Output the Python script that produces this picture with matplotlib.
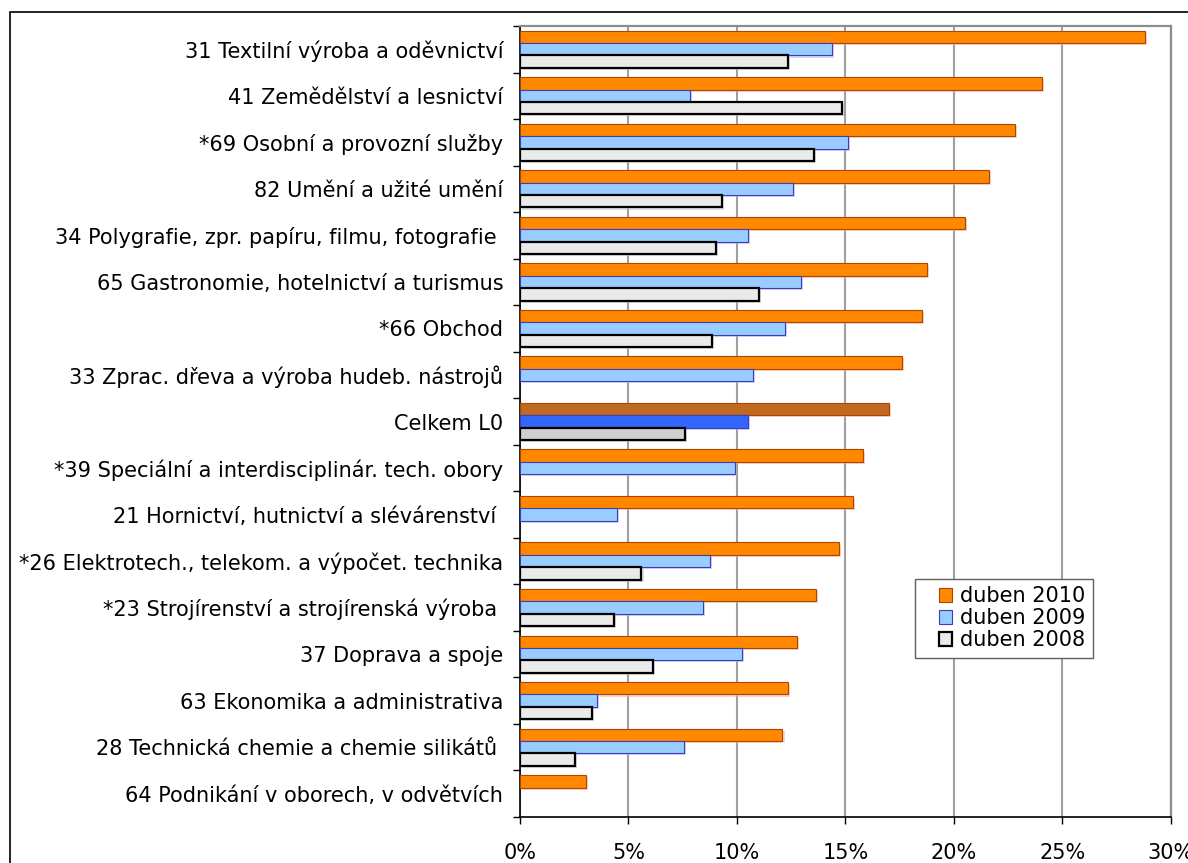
import numpy as np
import matplotlib
matplotlib.use("Agg")
import matplotlib.pyplot as plt
import matplotlib.patheffects as pe
from matplotlib.patches import Rectangle, Patch
from matplotlib.legend_handler import HandlerPatch
from matplotlib.ticker import FixedLocator, FuncFormatter

categories = [
    "31 Textilní výroba a oděvnictví",
    "41 Zemědělství a lesnictví",
    "*69 Osobní a provozní služby",
    "82 Umění a užité umění",
    "34 Polygrafie, zpr. papíru, filmu, fotografie ",
    "65 Gastronomie, hotelnictví a turismus",
    "*66 Obchod",
    "33 Zprac. dřeva a výroba hudeb. nástrojů",
    "Celkem L0",
    "*39 Speciální a interdisciplinár. tech. obory",
    "21 Hornictví, hutnictví a slévárenství ",
    "*26 Elektrotech., telekom. a výpočet. technika",
    "*23 Strojírenství a strojírenská výroba ",
    "37 Doprava a spoje",
    "63 Ekonomika a administrativa",
    "28 Technická chemie a chemie silikátů ",
    "64 Podnikání v oborech, v odvětvích",
]
series_labels = ["duben 2010", "duben 2009", "duben 2008"]
duben_2010 = [28.8, 24.05, 22.8, 21.6, 20.5, 18.75, 18.55, 17.6, 17.0,
              15.8, 15.35, 14.7, 13.65, 12.75, 12.35, 12.1, 3.05]
duben_2009 = [14.4, 7.85, 15.1, 12.6, 10.5, 12.95, 12.2, 10.75, 10.5,
              9.9, 4.45, 8.75, 8.45, 10.25, 3.55, 7.55, np.nan]
duben_2008 = [12.35, 14.85, 13.55, 9.3, 9.05, 11.0, 8.85, np.nan, 7.6,
              np.nan, np.nan, 5.6, 4.35, 6.15, 3.3, 2.55, np.nan]
highlight = "Celkem L0"
x_ticks = [0, 5, 10, 15, 20, 25, 30]

faces = ["#FF8800", "#99CCFF", "#EAEAEA"]
edges = ["#B04400", "#3C3CC0", "#000000"]
edge_w = [0.8, 0.8, 1.6]
hl_faces = ["#BF6A20", "#3366FF", "#D0D0D0"]
shadows = ["#E8B8A8", "#B8B8E0", "#C8C8C8"]

fig = plt.figure(figsize=(11.88, 8.63), dpi=100)
ax = fig.add_axes([520 / 1188, 1 - 817 / 863, 650.7 / 1188, 791 / 863])

# outer chart frame (right/bottom edges fall outside the picture)
fig.patches.append(Rectangle((10 / 1188, -0.1), 1.2, 1.1 - 12 / 863,
                             transform=fig.transFigure, fill=False,
                             edgecolor="black", linewidth=1.2))

y = np.arange(len(categories))
h = 0.8 / 3
for k, vals in enumerate([duben_2010, duben_2009, duben_2008]):
    fc = [hl_faces[k] if c == highlight else faces[k] for c in categories]
    bars = ax.barh(y - 0.4 + h * (k + 0.5), vals, height=h, color=fc,
                   edgecolor=edges[k], linewidth=edge_w[k], zorder=3)
    for b in bars:
        b.set_path_effects([pe.SimplePatchShadow(offset=(1.5, -1.5),
                                                 shadow_rgbFace=shadows[k],
                                                 alpha=0.6),
                            pe.Normal()])

ax.set_xlim(0, 30)
ax.set_ylim(len(categories) - 0.5, -0.5)

ax.xaxis.set_major_locator(FixedLocator(x_ticks))
ax.xaxis.set_major_formatter(FuncFormatter(lambda v, p: f"{v:.0f}%"))
ax.grid(axis="x", color="#A0A0A0", linewidth=1.5, zorder=0)
ax.tick_params(axis="x", length=5, width=1, pad=14, labelsize=15)

# category labels at centres, tick marks at boundaries
ax.set_yticks(y)
ax.set_yticklabels(categories)
ax.tick_params(axis="y", which="major", length=0, pad=12, labelsize=15)
ax.yaxis.set_minor_locator(FixedLocator(np.arange(-0.5, len(categories), 1)))
ax.tick_params(axis="y", which="minor", length=5, width=1)

for s in ["top", "right"]:
    ax.spines[s].set_color("#8C8C8C")
    ax.spines[s].set_linewidth(1.6)
ax.spines["left"].set_linewidth(1.2)
ax.spines["bottom"].set_linewidth(1.2)


def square(legend, orig_handle, xdescent, ydescent, width, height, fontsize):
    return Rectangle((-xdescent + width - height, -ydescent), height, height)


handles = [Patch(facecolor=faces[k], edgecolor=edges[k], linewidth=edge_w[k])
           for k in range(3)]
leg = ax.legend(handles, series_labels, loc="upper left",
                bbox_to_anchor=(0.607, 0.301), borderaxespad=0,
                fontsize=15, frameon=True, fancybox=False, framealpha=1,
                edgecolor="#606060", handlelength=1.44, handleheight=0.63,
                handletextpad=0.38, labelspacing=0.1, borderpad=0.35,
                handler_map={Patch: HandlerPatch(patch_func=square)})
leg.get_frame().set_linewidth(1.0)
leg.set_zorder(5)

fig.savefig("out.png", dpi=100)
